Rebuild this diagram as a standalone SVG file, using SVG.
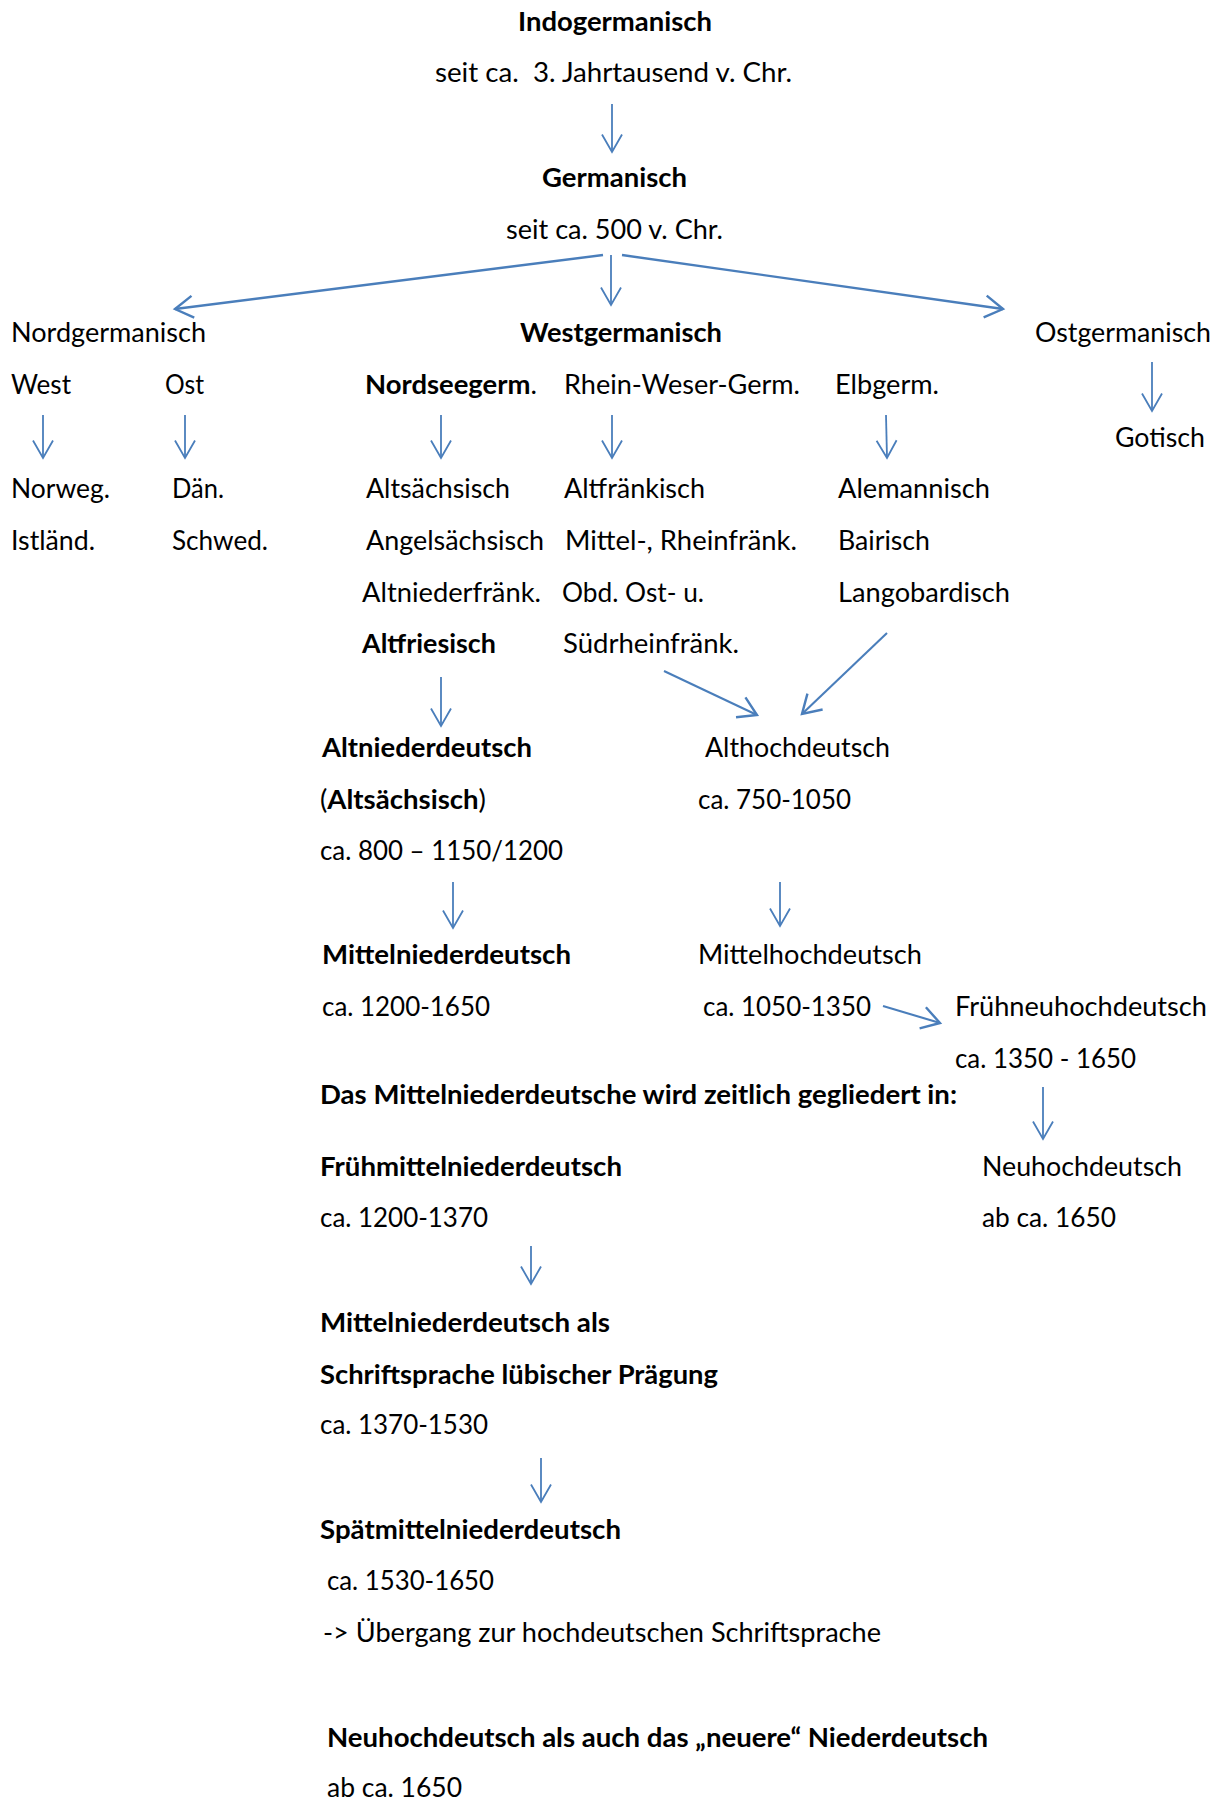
<svg xmlns="http://www.w3.org/2000/svg" width="1223" height="1800" viewBox="0 0 1223 1800">
<style>
text{font-family:Lato,"Liberation Sans","DejaVu Sans",sans-serif;font-size:27px;fill:#000;white-space:pre}
.b{font-weight:bold}
.r{font-weight:normal}
.c line{stroke:#4A7EBB;fill:none}
.t{stroke-width:1.8}
.k{stroke-width:2.4}
.m{stroke-width:2.1}
</style>
<defs>
<marker id="ah" markerUnits="userSpaceOnUse" viewBox="-24 -14 28 28" markerWidth="28" markerHeight="28" refX="0" refY="0" orient="auto" overflow="visible">
<path d="M-17.5,-10 L0,0 L-17.5,10" fill="none" stroke="#4A7EBB" stroke-width="1.8"/>
</marker>
<marker id="ahk" markerUnits="userSpaceOnUse" viewBox="-24 -14 28 28" markerWidth="28" markerHeight="28" refX="0" refY="0" orient="auto" overflow="visible">
<path d="M-18,-11 L0,0 L-18,11" fill="none" stroke="#4A7EBB" stroke-width="2.4"/>
</marker>
</defs>
<rect width="1223" height="1800" fill="#fff"/>
<g id="connectors" class="c">
<line class="t" x1="612" y1="104" x2="612" y2="152" marker-end="url(#ah)"/>
<line class="k" x1="603" y1="255" x2="175" y2="309" marker-end="url(#ahk)"/>
<line class="t" x1="611" y1="255" x2="611" y2="305" marker-end="url(#ah)"/>
<line class="k" x1="622" y1="255" x2="1003" y2="309" marker-end="url(#ahk)"/>
<line class="t" x1="1152" y1="362" x2="1152" y2="411" marker-end="url(#ah)"/>
<line class="t" x1="43" y1="415" x2="43" y2="458" marker-end="url(#ah)"/>
<line class="t" x1="185" y1="415" x2="185" y2="458" marker-end="url(#ah)"/>
<line class="t" x1="441" y1="415" x2="441" y2="458" marker-end="url(#ah)"/>
<line class="t" x1="612" y1="415" x2="612" y2="458" marker-end="url(#ah)"/>
<line class="t" x1="886" y1="415" x2="887" y2="458" marker-end="url(#ah)"/>
<line class="t" x1="441" y1="677" x2="441" y2="726" marker-end="url(#ah)"/>
<line class="m" x1="664" y1="671" x2="757" y2="715" marker-end="url(#ahk)"/>
<line class="m" x1="887" y1="633" x2="802" y2="714" marker-end="url(#ahk)"/>
<line class="t" x1="453" y1="882" x2="453" y2="928" marker-end="url(#ah)"/>
<line class="t" x1="780" y1="882" x2="780" y2="926" marker-end="url(#ah)"/>
<line class="m" x1="883" y1="1006" x2="940" y2="1023" marker-end="url(#ahk)"/>
<line class="t" x1="1043" y1="1087" x2="1043" y2="1139" marker-end="url(#ah)"/>
<line class="t" x1="531" y1="1246" x2="531" y2="1284" marker-end="url(#ah)"/>
<line class="t" x1="541" y1="1458" x2="541" y2="1502" marker-end="url(#ah)"/>
</g>
<g id="indogermanisch">
<text class="b" x="518" y="31" textLength="194" lengthAdjust="spacingAndGlyphs">Indogermanisch</text>
<text x="435" y="82" textLength="357" lengthAdjust="spacingAndGlyphs">seit ca.  3. Jahrtausend v. Chr.</text>
</g>
<g id="germanisch">
<text class="b" x="542" y="187" textLength="145" lengthAdjust="spacingAndGlyphs">Germanisch</text>
<text x="506" y="239" textLength="217" lengthAdjust="spacingAndGlyphs">seit ca. 500 v. Chr.</text>
</g>
<g id="nordgermanisch">
<text x="11" y="342" textLength="195" lengthAdjust="spacingAndGlyphs">Nordgermanisch</text>
</g>
<g id="westgermanisch">
<text class="b" x="520" y="342" textLength="202" lengthAdjust="spacingAndGlyphs">Westgermanisch</text>
</g>
<g id="ostgermanisch">
<text x="1035" y="342" textLength="176" lengthAdjust="spacingAndGlyphs">Ostgermanisch</text>
</g>
<g id="west"><text x="11" y="394" textLength="60" lengthAdjust="spacingAndGlyphs">West</text></g>
<g id="ost"><text x="165" y="394" textLength="39" lengthAdjust="spacingAndGlyphs">Ost</text></g>
<g id="nordseegerm"><text class="b" x="365" y="394" textLength="172" lengthAdjust="spacingAndGlyphs">Nordseegerm<tspan class="r">.</tspan></text></g>
<g id="rhein-weser-germ"><text x="564" y="394" textLength="236" lengthAdjust="spacingAndGlyphs">Rhein-Weser-Germ.</text></g>
<g id="elbgerm"><text x="835" y="394" textLength="104" lengthAdjust="spacingAndGlyphs">Elbgerm.</text></g>
<g id="gotisch"><text x="1115" y="447" textLength="90" lengthAdjust="spacingAndGlyphs">Gotisch</text></g>
<g id="west-sprachen">
<text x="11" y="498" textLength="99" lengthAdjust="spacingAndGlyphs">Norweg.</text>
<text x="11" y="550" textLength="84" lengthAdjust="spacingAndGlyphs">Istländ.</text>
</g>
<g id="ost-sprachen">
<text x="172" y="498" textLength="52" lengthAdjust="spacingAndGlyphs">Dän.</text>
<text x="172" y="550" textLength="96" lengthAdjust="spacingAndGlyphs">Schwed.</text>
</g>
<g id="nordsee-sprachen">
<text x="366" y="498" textLength="144" lengthAdjust="spacingAndGlyphs">Altsächsisch</text>
<text x="366" y="550" textLength="178" lengthAdjust="spacingAndGlyphs">Angelsächsisch</text>
<text x="362" y="602" textLength="179" lengthAdjust="spacingAndGlyphs">Altniederfränk.</text>
<text class="b" x="362" y="653" textLength="134" lengthAdjust="spacingAndGlyphs">Altfriesisch</text>
</g>
<g id="rhein-weser-sprachen">
<text x="564" y="498" textLength="141" lengthAdjust="spacingAndGlyphs">Altfränkisch</text>
<text x="565" y="550" textLength="232" lengthAdjust="spacingAndGlyphs">Mittel-, Rheinfränk.</text>
<text x="562" y="602" textLength="142" lengthAdjust="spacingAndGlyphs">Obd. Ost- u.</text>
<text x="563" y="653" textLength="176" lengthAdjust="spacingAndGlyphs">Südrheinfränk.</text>
</g>
<g id="elb-sprachen">
<text x="838" y="498" textLength="152" lengthAdjust="spacingAndGlyphs">Alemannisch</text>
<text x="838" y="550" textLength="92" lengthAdjust="spacingAndGlyphs">Bairisch</text>
<text x="838" y="602" textLength="172" lengthAdjust="spacingAndGlyphs">Langobardisch</text>
</g>
<g id="altniederdeutsch">
<text class="b" x="322" y="757" textLength="210" lengthAdjust="spacingAndGlyphs">Altniederdeutsch</text>
<text class="r" x="320" y="809" textLength="166" lengthAdjust="spacingAndGlyphs">(<tspan class="b">Altsächsisch</tspan>)</text>
<text x="320" y="860" textLength="243" lengthAdjust="spacingAndGlyphs">ca. 800 – 1150/1200</text>
</g>
<g id="althochdeutsch">
<text x="705" y="757" textLength="185" lengthAdjust="spacingAndGlyphs">Althochdeutsch</text>
<text x="698" y="809" textLength="153" lengthAdjust="spacingAndGlyphs">ca. 750-1050</text>
</g>
<g id="mittelniederdeutsch">
<text class="b" x="322" y="964" textLength="249" lengthAdjust="spacingAndGlyphs">Mittelniederdeutsch</text>
<text x="322" y="1016" textLength="168" lengthAdjust="spacingAndGlyphs">ca. 1200-1650</text>
</g>
<g id="mittelhochdeutsch">
<text x="698" y="964" textLength="224" lengthAdjust="spacingAndGlyphs">Mittelhochdeutsch</text>
<text x="703" y="1016" textLength="168" lengthAdjust="spacingAndGlyphs">ca. 1050-1350</text>
</g>
<g id="fruehneuhochdeutsch">
<text x="955" y="1016" textLength="252" lengthAdjust="spacingAndGlyphs">Frühneuhochdeutsch</text>
<text x="955" y="1068" textLength="181" lengthAdjust="spacingAndGlyphs">ca. 1350 - 1650</text>
</g>
<g id="gliederung">
<text class="b" x="320" y="1104" textLength="637" lengthAdjust="spacingAndGlyphs">Das Mittelniederdeutsche wird zeitlich gegliedert in:</text>
</g>
<g id="neuhochdeutsch">
<text x="982" y="1176" textLength="200" lengthAdjust="spacingAndGlyphs">Neuhochdeutsch</text>
<text x="982" y="1227" textLength="134" lengthAdjust="spacingAndGlyphs">ab ca. 1650</text>
</g>
<g id="fruehmittelniederdeutsch">
<text class="b" x="320" y="1176" textLength="302" lengthAdjust="spacingAndGlyphs">Frühmittelniederdeutsch</text>
<text x="320" y="1227" textLength="168" lengthAdjust="spacingAndGlyphs">ca. 1200-1370</text>
</g>
<g id="mnd-schriftsprache">
<text class="b" x="320" y="1332" textLength="290" lengthAdjust="spacingAndGlyphs">Mittelniederdeutsch als</text>
<text class="b" x="320" y="1384" textLength="398" lengthAdjust="spacingAndGlyphs">Schriftsprache lübischer Prägung</text>
<text x="320" y="1434" textLength="168" lengthAdjust="spacingAndGlyphs">ca. 1370-1530</text>
</g>
<g id="spaetmittelniederdeutsch">
<text class="b" x="320" y="1539" textLength="301" lengthAdjust="spacingAndGlyphs">Spätmittelniederdeutsch</text>
<text x="327" y="1590" textLength="167" lengthAdjust="spacingAndGlyphs">ca. 1530-1650</text>
<text x="323" y="1642" textLength="558" lengthAdjust="spacingAndGlyphs">-&gt; Übergang zur hochdeutschen Schriftsprache</text>
</g>
<g id="neuhochdeutsch-niederdeutsch">
<text class="b" x="327" y="1747" textLength="661" lengthAdjust="spacingAndGlyphs">Neuhochdeutsch als auch das „neuere“ Niederdeutsch</text>
<text x="327" y="1797" textLength="135" lengthAdjust="spacingAndGlyphs">ab ca. 1650</text>
</g>
</svg>
